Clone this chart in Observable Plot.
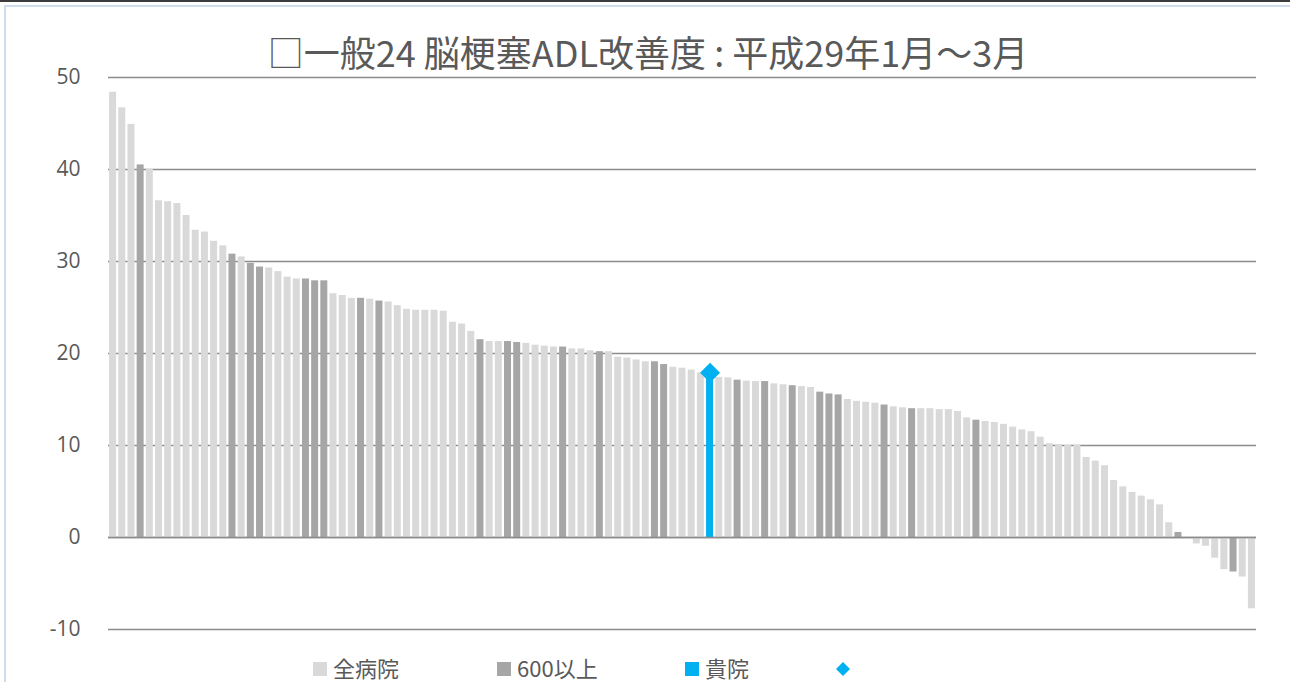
<!DOCTYPE html>
<html>
<head>
<meta charset="utf-8">
<script src="https://cdn.jsdelivr.net/npm/d3@7"></script>
<script src="https://cdn.jsdelivr.net/npm/@observablehq/plot@0.6"></script>
<style>
  html, body { margin: 0; padding: 0; background: #fff; }
  #wrap { position: relative; width: 1290px; height: 682px; overflow: hidden; background: #fff;
          font-family: "Noto Sans CJK JP", "Noto Sans", sans-serif; color: #595959; }
  #topline { position: absolute; left: 0; top: 0; width: 1290px; height: 2px; background: #3c3c3c; }
  #frame { position: absolute; left: 4px; top: 5px; width: 1400px; height: 800px;
           border-left: 2px solid #cfdcec; border-top: 2px solid #cfdcec; }
  #title { position: absolute; left: 0; width: 1296px; top: 29px; text-align: center;
           font-size: 36px; line-height: 44px; color: #595959; white-space: nowrap; }
  #chart { position: absolute; left: 0; top: 60px; }
  #legend { position: absolute; left: 0; top: 650px; width: 1290px; height: 32px; font-size: 22px; }
  .li { position: absolute; top: 5px; line-height: 24px; height: 24px; white-space: nowrap; }
  .sw { display: inline-block; width: 14px; height: 14px; vertical-align: middle; margin-right: 6px; position: relative; top: -2px; }
</style>
</head>
<body>
<div id="wrap">
  <div id="topline"></div>
  <div id="frame"></div>
  <div id="title"></div>
  <div id="chart"></div>
  <div id="legend"></div>
</div>
<script>
// ---- data ----
const titleText = "□一般24 脳梗塞ADL改善度 : 平成29年1月～3月";
const seriesNames = ["全病院", "600以上", "貴院"];
const seriesColors = ["#d9d9d9", "#a6a6a6", "#00b0f0"];
const values = [
  48.4, 46.7, 44.9, 40.5, 40.0, 36.6, 36.5, 36.3, 35.0, 33.4,
  33.2, 32.2, 31.7, 30.8, 30.5, 29.8, 29.4, 29.3, 28.9, 28.3,
  28.1, 28.1, 27.9, 27.9, 26.5, 26.3, 26.0, 26.0, 25.9, 25.7,
  25.6, 25.2, 24.8, 24.7, 24.7, 24.7, 24.6, 23.4, 23.2, 22.4,
  21.5, 21.3, 21.3, 21.3, 21.2, 21.1, 20.9, 20.8, 20.7, 20.7,
  20.5, 20.5, 20.3, 20.2, 20.2, 19.6, 19.5, 19.3, 19.1, 19.1,
  18.8, 18.5, 18.4, 18.2, 17.9, 17.9, 17.4, 17.35, 17.1, 17.0,
  16.95, 16.95, 16.7, 16.6, 16.5, 16.4, 16.3, 15.8, 15.6, 15.5,
  15.0, 14.8, 14.7, 14.6, 14.4, 14.2, 14.1, 14.0, 14.0, 14.0,
  13.9, 13.9, 13.7, 13.0, 12.75, 12.6, 12.5, 12.3, 12.0, 11.7,
  11.5, 10.9, 10.2, 10.1, 10.0, 10.0, 8.7, 8.3, 7.8, 6.2,
  5.5, 4.9, 4.5, 4.1, 3.55, 1.6, 0.55, 0.0, -0.7, -0.95,
  -2.25, -3.5, -3.75, -4.3, -7.75
];
// 1-based positions of hospitals with 600+ beds
const largeHospitals = [4, 14, 16, 17, 22, 23, 24, 28, 30, 41, 44, 45, 50, 54, 60, 61, 69, 72, 75, 78, 79, 80, 85, 88, 95, 117, 123];
// 1-based position of own hospital
const ownHospital = 66;
const yTicks = [-10, 0, 10, 20, 30, 40, 50];

// ---- build table ----
const rows = values.map((v, i) => {
  const pos = i + 1;
  const group = pos === ownHospital ? seriesNames[2] : (largeHospitals.includes(pos) ? seriesNames[1] : seriesNames[0]);
  return {pos, value: v, group};
});
const own = rows.filter(d => d.group === seriesNames[2]);

document.getElementById("title").textContent = titleText;

const chart = Plot.plot({
  width: 1290,
  height: 590,
  marginLeft: 108,
  marginRight: 34,
  marginTop: 17,
  marginBottom: 21,
  style: {fontFamily: "'Open Sans', 'Noto Sans', sans-serif", fontSize: "21px", color: "#595959", background: "transparent"},
  x: {type: "band", domain: rows.map(d => d.pos), paddingInner: 0.24, paddingOuter: 0.12, round: false, axis: null},
  y: {domain: [-10, 50], ticks: yTicks, tickSize: 0, tickPadding: 28, tickFormat: d => String(d), label: null},
  color: {domain: seriesNames, range: seriesColors},
  marks: [
    Plot.ruleY(yTicks, {stroke: "#8c8c8c", strokeWidth: 1.5}),
    Plot.barY(rows, {x: "pos", y: "value", fill: "group"}),
    Plot.ruleY([0], {stroke: "#8c8c8c", strokeWidth: 1.5}),
    Plot.dot(own, {x: "pos", y: "value", symbol: "diamond2", r: 9, fill: seriesColors[2], stroke: "none"})
  ]
});
document.getElementById("chart").appendChild(chart);

// ---- legend ----
const legend = document.getElementById("legend");
const legendX = [313, 497, 685];
seriesNames.forEach((name, i) => {
  const item = document.createElement("div");
  item.className = "li";
  item.style.left = legendX[i] + "px";
  item.innerHTML = `<span class="sw" style="background:${seriesColors[i]}"></span>${name}`;
  legend.appendChild(item);
});
const dia = document.createElement("div");
dia.className = "li";
dia.style.left = "836px";
dia.innerHTML = `<svg width="14" height="14" style="vertical-align:middle;position:relative;top:-2px"><path d="M7,0L14,7L7,14L0,7Z" fill="${seriesColors[2]}"/></svg>`;
legend.appendChild(dia);
</script>
</body>
</html>
